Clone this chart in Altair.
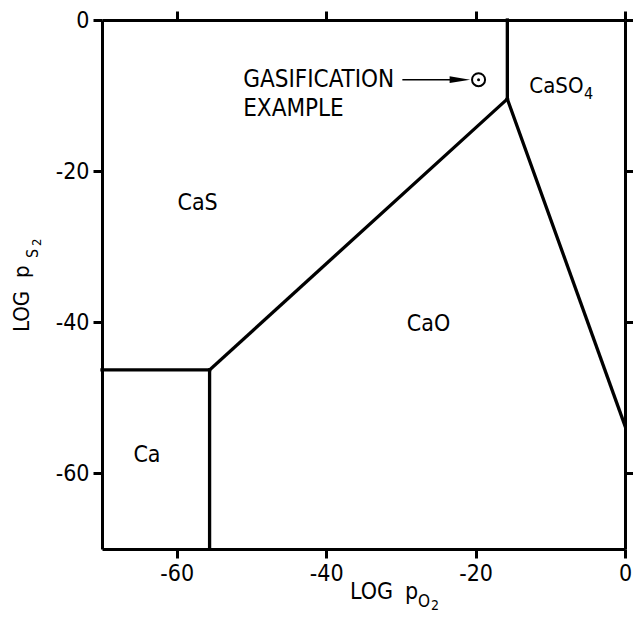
import altair as alt
import pandas as pd

# Phase boundaries (LOG pO2, LOG pS2)
seg_x1 = [-70.0, -55.6, -55.6, -15.75, -15.75]
seg_y1 = [-46.3, -46.3, -46.3, -10.45, -10.45]
seg_x2 = [-55.6, -55.6, -15.75, -15.75, 0.0]
seg_y2 = [-46.3, -70.0, -10.45, 0.0, -53.7]

# Region labels
region_labels = ["CaS", "CaO", "Ca"]
region_x = [-59.9, -29.2, -65.8]
region_y = [-24.2, -40.2, -57.6]
caso_label = ["CaSO"]
caso_x = [-12.8]
caso_y = [-8.7]
sub_labels = ["4"]
sub_x = [-5.5]
sub_y = [-9.8]

# Gasification example
example_x = [-19.6]
example_y = [-7.9]
note_labels = ["GASIFICATION", "EXAMPLE"]
note_x = [-51.1, -51.1]
note_y = [-8.0, -11.8]
arrow_x1 = [-29.8]
arrow_x2 = [-23.0]
arrow_y = [-7.9]
head_x = [-22.1]

tick_values = [-60, -40, -20, 0]
domain = [-70, 0]

FONT = "DejaVu Sans Condensed, DejaVu Sans"

xs = alt.Scale(domain=domain, nice=False, zero=False)
ys = alt.Scale(domain=domain, nice=False, zero=False)

lab_expr = "datum.value == 0 ? '0' : '-' + abs(datum.value)"

def axis(orient, labels):
    return alt.Axis(orient=orient, values=tick_values, labels=labels, title=None,
                    grid=False, domain=True, domainColor="black", domainWidth=3,
                    ticks=True, tickColor="black", tickWidth=3, tickSize=9,
                    labelFont=FONT, labelFontSize=23, labelColor="black",
                    labelFlush=False, labelOverlap=False, labelPadding=4,
                    labelExpr=lab_expr)

seg_df = pd.DataFrame({"x1": seg_x1, "y1": seg_y1, "x2": seg_x2, "y2": seg_y2})
lines = alt.Chart(seg_df).mark_rule(color="black", strokeWidth=3.3, strokeCap="square").encode(
    x=alt.X("x1:Q", scale=xs, axis=axis("bottom", True)),
    y=alt.Y("y1:Q", scale=ys, axis=axis("left", True)),
    x2="x2:Q", y2="y2:Q",
)

ex_df = pd.DataFrame({"x": example_x, "y": example_y})
circle = alt.Chart(ex_df).mark_point(shape="circle", size=170, color="black", strokeWidth=2,
                                     filled=False, opacity=1).encode(
    x=alt.X("x:Q", scale=xs, axis=axis("top", False)),
    y=alt.Y("y:Q", scale=ys, axis=axis("right", False)),
)
dot = alt.Chart(ex_df).mark_point(shape="circle", size=9, color="black", filled=True, opacity=1).encode(
    x=alt.X("x:Q", scale=xs, axis=None),
    y=alt.Y("y:Q", scale=ys, axis=None),
)

ar_df = pd.DataFrame({"x1": arrow_x1, "x2": arrow_x2, "y": arrow_y, "hx": head_x})
arrow_line = alt.Chart(ar_df).mark_rule(color="black", strokeWidth=1.6).encode(
    x=alt.X("x1:Q", scale=xs, axis=None), x2="x2:Q",
    y=alt.Y("y:Q", scale=ys, axis=None),
)
arrow_head = alt.Chart(ar_df).mark_point(shape="M-1,-0.33L1,0L-1,0.33Z", size=420, color="black",
                                         filled=True, opacity=1).encode(
    x=alt.X("hx:Q", scale=xs, axis=None),
    y=alt.Y("y:Q", scale=ys, axis=None),
)

def labels_layer(labels, xv, yv, size):
    df = pd.DataFrame({"label": labels, "x": xv, "y": yv})
    return alt.Chart(df).mark_text(align="left", baseline="middle", font=FONT, fontSize=size,
                                   color="black").encode(
        x=alt.X("x:Q", scale=xs, axis=None), y=alt.Y("y:Q", scale=ys, axis=None),
        text="label:N")

regions = labels_layer(region_labels, region_x, region_y, 23)
caso = labels_layer(caso_label, caso_x, caso_y, 22)
subs = labels_layer(sub_labels, sub_x, sub_y, 16)
notes = labels_layer(note_labels, note_x, note_y, 24)

# Axis titles with subscripts
def txt(s, x, y, size, angle=0):
    return alt.Chart(pd.DataFrame({"t": [s]})).mark_text(
        align="left", baseline="alphabetic", font=FONT, fontSize=size, color="black", angle=angle
    ).encode(x=alt.value(x), y=alt.value(y), text="t:N")

xt = [txt("LOG", 248, 579, 23), txt("p", 303, 579, 23),
      txt("O", 316, 587, 17), txt("2", 329, 590, 14)]
yt = [txt("LOG", -73, 312, 22, 270), txt("p", -73, 258, 22, 270),
      txt("S", -64, 238, 16, 270), txt("2", -61, 226, 13, 270)]

chart = alt.layer(
    lines, circle, dot, arrow_line, arrow_head, regions, caso, subs, notes, *xt, *yt
).resolve_axis(x="independent", y="independent").properties(
    width=523, height=529,
    autosize=alt.AutoSizeParams(type="none"),
    padding={"left": 94, "top": 12, "right": 8, "bottom": 63},
    background="white",
).configure_view(stroke=None)

chart.save("out.html", embed_options={"renderer": "svg", "actions": False})
